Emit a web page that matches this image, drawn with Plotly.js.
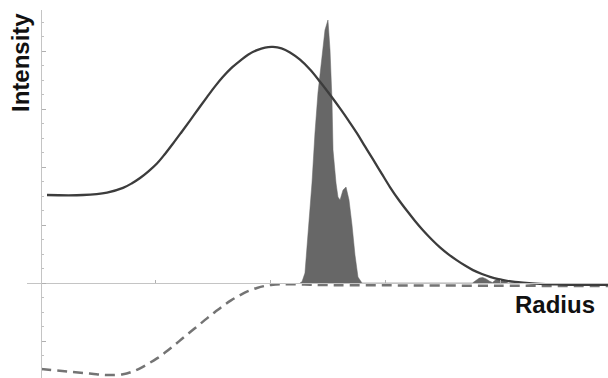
<!DOCTYPE html>
<html>
<head>
<meta charset="utf-8">
<script src="https://cdn.plot.ly/plotly-3.0.1.min.js"></script>
<style>html,body{margin:0;padding:0;background:#fff;}#chart{width:608px;height:378px;}</style>
</head>
<body>
<div id="chart"></div>
<script>
// Solid curve (intensity profile)
var solidX = [0.061,0.374,0.583,0.722,0.800,0.870,0.943,1.017,1.087,1.157,1.230,1.304,1.378,1.452,1.522,1.591,1.661,1.739,1.809,1.887,1.957,2.026,2.100,2.174,2.261,2.348,2.435,2.522,2.609,2.683,2.757,2.826,2.896,2.970,3.043,3.117,3.191,3.261,3.330,3.404,3.478,3.552,3.626,3.696,3.765,3.843,3.913,3.987,4.061,4.130,4.200,4.348,4.500,4.652,4.939];
var solidY = [1.517,1.517,1.560,1.640,1.720,1.810,1.925,2.060,2.225,2.405,2.600,2.800,3.005,3.205,3.390,3.555,3.700,3.830,3.935,4.015,4.060,4.070,4.045,3.975,3.850,3.680,3.470,3.245,3.010,2.800,2.580,2.355,2.130,1.890,1.655,1.440,1.245,1.070,0.910,0.755,0.615,0.495,0.390,0.300,0.222,0.155,0.105,0.065,0.037,0.018,0.005,-0.015,-0.025,-0.032,-0.034];

// Dashed curve
var dashX = [0.010,0.287,0.450,0.583,0.722,0.800,0.870,0.943,1.017,1.087,1.157,1.230,1.304,1.378,1.452,1.522,1.591,1.661,1.739,1.809,1.887,1.957,2.026,2.100,2.174,2.300,2.435,3.000,4.000,4.939];
var dashY = [-1.483,-1.534,-1.565,-1.586,-1.572,-1.530,-1.470,-1.390,-1.300,-1.200,-1.090,-0.970,-0.850,-0.730,-0.610,-0.500,-0.395,-0.300,-0.210,-0.140,-0.085,-0.050,-0.030,-0.022,-0.020,-0.025,-0.034,-0.040,-0.048,-0.052];

// Filled peak distribution
var peakX = [2.261,2.278,2.304,2.330,2.365,2.391,2.417,2.452,2.478,2.504,2.522,2.539,2.548,2.574,2.591,2.609,2.635,2.661,2.687,2.713,2.739,2.765,2.800,3.760,3.790,3.820,3.850,3.880,3.910,3.935,3.960,3.990,4.020,4.050,4.070];
var peakY = [0.000,0.020,0.172,0.862,1.724,2.586,3.276,3.897,4.362,4.534,4.017,3.155,2.293,1.724,1.483,1.431,1.603,1.655,1.431,1.000,0.483,0.103,0.000,0.000,0.040,0.085,0.095,0.070,0.030,0.010,0.050,0.075,0.060,0.020,0.000];

// Axis ticks
var xTicks = [1,2,3,4];
var xLabel = "Radius";
var yLabel = "Intensity";

var traces = [
  {x: peakX, y: peakY, type: 'scatter', mode: 'lines', fill: 'tozeroy',
   fillcolor: '#676767', line: {color: '#676767', width: 0.5}, hoverinfo: 'skip'},
  {x: dashX, y: dashY, type: 'scatter', mode: 'lines', line: {color: '#747474', width: 2.5, dash: '10px,6px', shape: 'spline', smoothing: 1}},
  {x: solidX, y: solidY, type: 'scatter', mode: 'lines', line: {color: '#3c3c3c', width: 2.3, shape: 'spline', smoothing: 1}}
];

var layout = {
  width: 608, height: 378,
  margin: {l: 0, r: 0, t: 0, b: 0, pad: 0},
  paper_bgcolor: '#ffffff', plot_bgcolor: 'rgba(0,0,0,0)',
  showlegend: false,
  xaxis: {
    domain: [27/608, 1],
    range: [-13/115, 568/115],
    showgrid: false, zeroline: false,
    showline: true, linecolor: '#c4c4c4', linewidth: 1,
    anchor: 'free', position: 95/378,
    tickvals: xTicks, ticks: 'inside', ticklen: 3, tickcolor: '#b0b0b0',
    showticklabels: false
  },
  yaxis: {
    domain: [0, 368/378],
    range: [-95/58, 273/58],
    showgrid: false, zeroline: false,
    showline: true, linecolor: '#c4c4c4', linewidth: 1,
    anchor: 'free', position: 41/608,
    dtick: 1, tick0: 0, ticks: 'inside', ticklen: 4, tickcolor: '#b0b0b0',
    minor: {dtick: 0.25, tick0: 0, ticks: 'inside', ticklen: 2, tickcolor: '#c0c0c0'},
    showticklabels: false
  },
  annotations: [
    {text: xLabel, xref: 'paper', yref: 'paper', x: 555/608, y: (378-304)/378,
     xanchor: 'center', yanchor: 'middle', showarrow: false,
     font: {family: 'Liberation Sans, Arial, sans-serif', size: 24, color: '#111'}},
    {text: yLabel, xref: 'paper', yref: 'paper', x: 21/608, y: (378-63)/378,
     xanchor: 'center', yanchor: 'middle', showarrow: false, textangle: -90,
     font: {family: 'Liberation Sans, Arial, sans-serif', size: 24, color: '#111'}}
  ]
};
layout.annotations.forEach(function(a){ a.text = '<b>' + a.text + '</b>'; });

Plotly.newPlot('chart', traces, layout, {staticPlot: true, displayModeBar: false});
</script>
</body>
</html>
